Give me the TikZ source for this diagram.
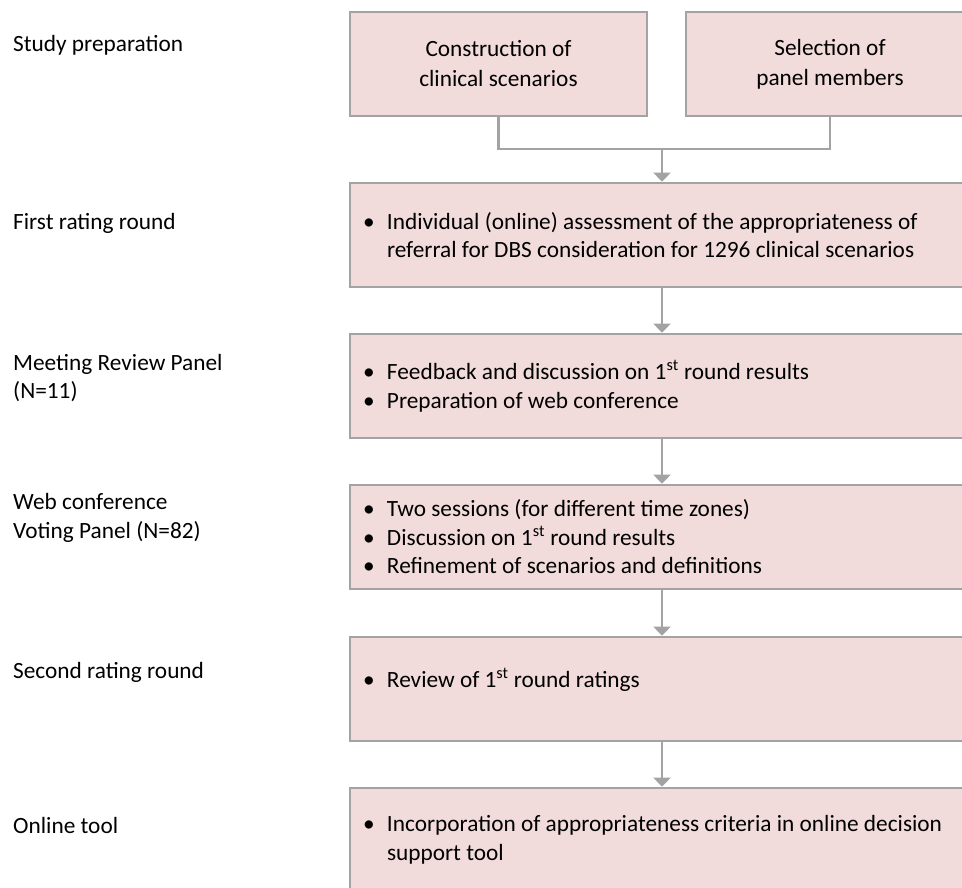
\documentclass[tikz,border=0pt]{standalone}
\usepackage{fontspec}
\setmainfont{Carlito}
\usetikzlibrary{arrows.meta}
\definecolor{boxfill}{HTML}{F2DCDB}
\definecolor{lineg}{HTML}{A3A3A3}
\newcommand\itm[1]{\makebox[24pt][l]{\textbullet}#1}
\tikzset{
  mainbox/.style={draw=lineg, line width=2.7pt, fill=boxfill, minimum width=624pt, minimum height=104pt, text width=598pt, inner xsep=13pt, align=flush left, font=\fontsize{23.3}{28.5}\selectfont},
  topbox/.style={draw=lineg, line width=2.7pt, fill=boxfill, minimum height=104pt, align=center, font=\fontsize{23.3}{30}\selectfont},
  lbl/.style={anchor=west, inner sep=0pt, align=flush left, font=\fontsize{23.3}{28.5}\selectfont},
  conn/.style={draw=lineg, line width=2.7pt},
  arr/.style={conn, -{Triangle[width=17pt,length=9pt]}}
}
\begin{document}
\begin{tikzpicture}[x=1pt,y=-1pt]
\path[use as bounding box] (0,0) rectangle (962,887);
\clip (0,0) rectangle (962,887);
% left labels
\node[lbl] (l1) at (13,45) {Study preparation};
\node[lbl] (l2) at (13,223) {First rating round};
\node[lbl] (l3) at (13,378) {Meeting Review Panel\\(N=11)};
\node[lbl] (l4) at (13,518) {Web conference\\Voting Panel (N=82)};
\node[lbl] (l5) at (13,672) {Second rating round};
\node[lbl] (l6) at (13,825) {Online tool};
% top boxes
\node[topbox, minimum width=297pt] (c1) at (498.5,64) {Construction of\\clinical scenarios};
\node[topbox, minimum width=288pt] (c2) at (830,64) {Selection of\\panel members};
% main boxes
\node[mainbox] (b2) at (662,235) {\itm{Individual (online) assessment of the appropriateness of}\\\hspace*{24pt}referral for DBS consideration for 1296 clinical scenarios};
\node[mainbox] (b3) at (662,386) {\itm{Feedback and discussion on 1\textsuperscript{st} round results}\\\itm{Preparation of web conference}};
\node[mainbox] (b4) at (662,537) {\itm{Two sessions (for different time zones)}\\\itm{Discussion on 1\textsuperscript{st} round results}\\\itm{Refinement of scenarios and definitions}};
\node[mainbox] (b5) at (662,689) {\raisebox{9pt}[\height][\depth]{\itm{Review of 1\textsuperscript{st} round ratings}}};
\node[mainbox] (b6) at (662,840) {\itm{Incorporation of appropriateness criteria in online decision}\\\hspace*{24pt}support tool};
% connectors
\coordinate (j) at (662,149);
\draw[conn] (c1.south) |- (j) -| (c2.south);
\draw[arr] (j) -- (b2.north);
\draw[arr] (b2.south) -- (b3.north);
\draw[arr] (b3.south) -- (b4.north);
\draw[arr] (b4.south) -- (b5.north);
\draw[arr] (b5.south) -- (b6.north);
\end{tikzpicture}
\end{document}
